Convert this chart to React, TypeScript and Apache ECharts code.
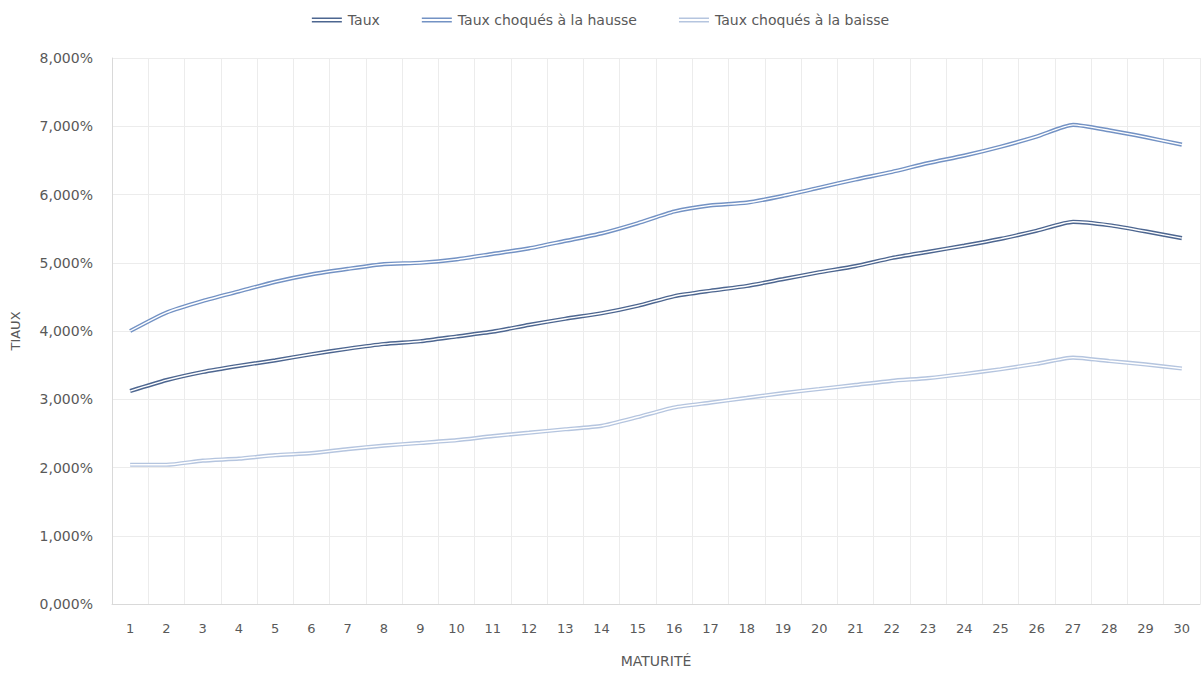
import React, { useEffect, useRef } from "react";
import * as echarts from "echarts";

const maturites = Array.from({ length: 30 }, (_, i) => String(i + 1));

const taux = [
  3.12, 3.28, 3.40, 3.49, 3.57, 3.66, 3.74, 3.81, 3.85, 3.92,
  3.99, 4.09, 4.18, 4.26, 4.37, 4.51, 4.59, 4.66, 4.76, 4.86,
  4.95, 5.07, 5.16, 5.25, 5.35, 5.47, 5.60, 5.55, 5.46, 5.36,
];

const tauxHausse = [
  4.00, 4.27, 4.44, 4.58, 4.72, 4.83, 4.91, 4.98, 5.00, 5.05,
  5.13, 5.21, 5.32, 5.43, 5.58, 5.75, 5.84, 5.88, 5.98, 6.10,
  6.22, 6.33, 6.46, 6.57, 6.70, 6.85, 7.02, 6.94, 6.84, 6.73,
];

const tauxBaisse = [
  2.04, 2.04, 2.10, 2.13, 2.18, 2.21, 2.27, 2.32, 2.36, 2.40,
  2.46, 2.51, 2.56, 2.61, 2.74, 2.88, 2.95, 3.02, 3.09, 3.15,
  3.21, 3.27, 3.31, 3.37, 3.44, 3.52, 3.61, 3.56, 3.51, 3.45,
];

const yTicks = { min: 0, max: 8, interval: 1 };

const COLORS = {
  taux: "#4d6690",
  hausse: "#7392c4",
  baisse: "#b5c5df",
};

const FONT = "'DejaVu Sans', 'Noto Sans', sans-serif";
const TEXT = "#595959";

// Each curve is drawn as a double rail: a wide coloured stroke with a thin white core on top.
function doubleLine(name: string, data: number[], color: string, z: number) {
  const base = {
    type: "line" as const,
    data,
    smooth: 0.2,
    showSymbol: false,
    symbol: "none",
    silent: true,
  };
  return [
    { ...base, name, z, lineStyle: { color, width: 4.2 }, itemStyle: { color } },
    { ...base, name: name + " (inner)", z: z + 1, lineStyle: { color: "#ffffff", width: 1.4 } },
  ];
}

const legendIcon = "path://M0,0H30V1.6H0Z M0,3.4H30V5H0Z";

export default function App() {
  const ref = useRef<HTMLDivElement>(null);

  useEffect(() => {
    if (!ref.current) return;
    const chart = echarts.init(ref.current, undefined, { renderer: "svg" });
    chart.setOption({
      animation: false,
      backgroundColor: "#ffffff",
      textStyle: { fontFamily: FONT },
      legend: {
        top: 8,
        left: "center",
        itemWidth: 38,
        itemHeight: 5,
        itemGap: 42,
        icon: legendIcon,
        textStyle: { color: TEXT, fontSize: 14, fontFamily: FONT, padding: [0, 0, 0, -3] },
        data: [
          { name: "Taux", itemStyle: { color: COLORS.taux } },
          { name: "Taux choqués à la hausse", itemStyle: { color: COLORS.hausse } },
          { name: "Taux choqués à la baisse", itemStyle: { color: COLORS.baisse } },
        ],
      },
      grid: { left: 112, right: 1, top: 58, bottom: 68, containLabel: false },
      xAxis: {
        type: "category",
        data: maturites,
        boundaryGap: true,
        name: "MATURITÉ",
        nameLocation: "middle",
        nameGap: 50,
        nameTextStyle: { color: TEXT, fontSize: 14, fontFamily: FONT },
        axisLine: { show: true, lineStyle: { color: "#d9d9d9", width: 1 } },
        axisTick: { show: false },
        axisLabel: { color: TEXT, fontSize: 13, margin: 18, fontFamily: FONT },
        splitLine: { show: true, lineStyle: { color: "#ececec", width: 1 } },
      },
      yAxis: {
        type: "value",
        min: yTicks.min,
        max: yTicks.max,
        interval: yTicks.interval,
        name: "TIAUX",
        nameLocation: "middle",
        nameGap: 90,
        nameRotate: 90,
        nameTextStyle: { color: TEXT, fontSize: 13, fontFamily: FONT },
        axisLine: { show: true, lineStyle: { color: "#d9d9d9", width: 1 } },
        axisTick: { show: false },
        axisLabel: {
          color: TEXT,
          fontSize: 14,
          margin: 19,
          fontFamily: FONT,
          formatter: (v: number) => v.toFixed(3).replace(".", ",") + "%",
        },
        splitLine: { show: true, lineStyle: { color: "#ececec", width: 1 } },
      },
      series: [
        ...doubleLine("Taux", taux, COLORS.taux, 2),
        ...doubleLine("Taux choqués à la hausse", tauxHausse, COLORS.hausse, 4),
        ...doubleLine("Taux choqués à la baisse", tauxBaisse, COLORS.baisse, 6),
      ],
    });
    return () => chart.dispose();
  }, []);

  return (
    <div
      ref={ref}
      style={{ position: "fixed", left: 0, top: 0, width: 1201, height: 673 }}
    />
  );
}
